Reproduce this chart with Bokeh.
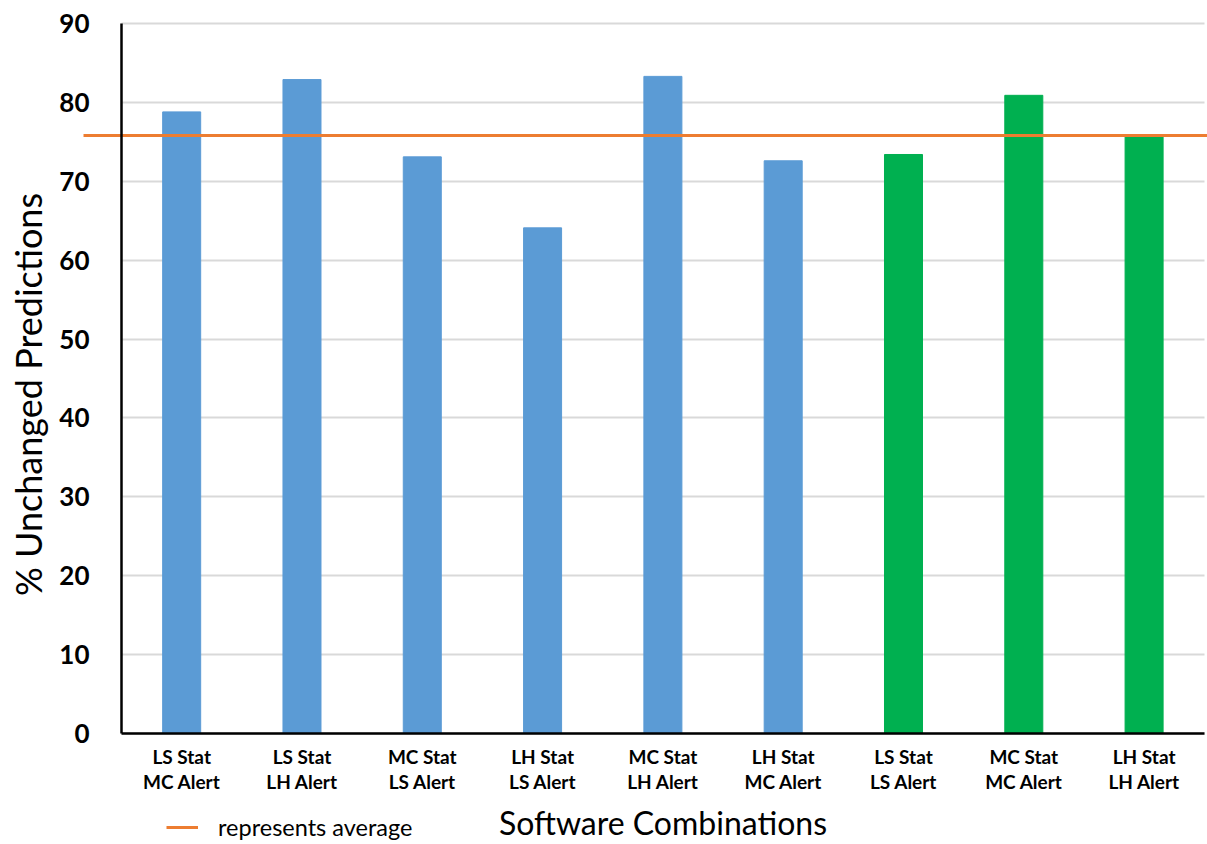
from bokeh.plotting import figure
from bokeh.models import (ColumnDataSource, Range1d, LinearAxis, FixedTicker,
                          Legend, LegendItem)
from bokeh.embed import file_html
from bokeh.resources import INLINE

# Software combinations (statistical package / alert package)
combos = ["LS Stat\nMC Alert", "LS Stat\nLH Alert", "MC Stat\nLS Alert",
          "LH Stat\nLS Alert", "MC Stat\nLH Alert", "LH Stat\nMC Alert",
          "LS Stat\nLS Alert", "MC Stat\nMC Alert", "LH Stat\nLH Alert"]
unchanged = [78.8, 82.9, 73.1, 64.1, 83.3, 72.6, 73.4, 80.9, 75.8]
same_vendor = [False, False, False, False, False, False, True, True, True]
average = 75.8
y_ticks = [0, 10, 20, 30, 40, 50, 60, 70, 80, 90]

BLUE = "#5B9BD5"
GREEN = "#00B050"
ORANGE = "#ED7D31"
FONT = "Lato"

n = len(combos)
positions = [i + 0.5 for i in range(n)]
colors = [GREEN if s else BLUE for s in same_vendor]
src = ColumnDataSource(dict(x=positions, top=unchanged, color=colors))

# The frame fills the whole canvas; both axes are pinned at zero so that the
# average line can run past the value axis into the label margin.
x_lo, x_hi = -1.006, 9.027
y_lo, y_hi = -14.07, 92.92
line_start = -0.316

p = figure(width=1207, height=844, output_backend="svg", toolbar_location=None,
           x_range=Range1d(x_lo, x_hi), y_range=Range1d(y_lo, y_hi),
           x_axis_location=None, y_axis_location=None,
           min_border_left=0, min_border_right=0, min_border_top=0,
           min_border_bottom=0)
p.outline_line_color = None
p.background_fill_color = "white"
p.border_fill_color = "white"

p.vbar(x="x", top="top", width=0.316, color="color", source=src)

avg_line = p.line(x=[line_start, x_hi], y=[average, average],
                  line_color=ORANGE, line_width=3)

# value axis: line and tick labels
yaxis = LinearAxis(fixed_location=0, bounds=(0, 90),
                   ticker=FixedTicker(ticks=y_ticks))
yaxis.major_label_text_font = FONT
yaxis.major_label_text_font_style = "bold"
yaxis.major_label_text_font_size = "26px"
yaxis.major_label_text_color = "black"
yaxis.major_label_standoff = 26
yaxis.major_tick_line_color = None
yaxis.minor_tick_line_color = None
yaxis.axis_line_color = "black"
yaxis.axis_line_width = 2.5
p.add_layout(yaxis, "left")

# value axis title, centred slightly below the middle of the scale
ytitle = LinearAxis(fixed_location=0, bounds=(-4, 90),
                    ticker=FixedTicker(ticks=[]))
ytitle.axis_label = "% Unchanged Predictions"
ytitle.axis_label_text_font = FONT
ytitle.axis_label_text_font_style = "normal"
ytitle.axis_label_text_font_size = "36px"
ytitle.axis_label_text_color = "black"
ytitle.axis_label_standoff = 72
ytitle.axis_line_color = None
ytitle.major_tick_line_color = None
ytitle.minor_tick_line_color = None
p.add_layout(ytitle, "left")

xaxis = LinearAxis(fixed_location=0, bounds=(0, n),
                   ticker=FixedTicker(ticks=positions))
xaxis.major_label_overrides = {x: c for x, c in zip(positions, combos)}
xaxis.axis_label = "Software Combinations"
xaxis.axis_label_text_font = FONT
xaxis.axis_label_text_font_style = "normal"
xaxis.axis_label_text_font_size = "32px"
xaxis.axis_label_text_line_height = 1.0
xaxis.axis_label_text_color = "black"
xaxis.axis_label_standoff = 7
xaxis.major_label_text_font = FONT
xaxis.major_label_text_font_style = "bold"
xaxis.major_label_text_font_size = "19px"
xaxis.major_label_text_line_height = 1.1
xaxis.major_label_text_color = "black"
xaxis.major_label_standoff = 5
xaxis.major_tick_line_color = None
xaxis.minor_tick_line_color = None
xaxis.axis_line_color = "black"
xaxis.axis_line_width = 2.5
p.add_layout(xaxis, "below")

p.xgrid.visible = False
p.ygrid.ticker = FixedTicker(ticks=y_ticks)
p.ygrid.grid_line_color = "#D9D9D9"
p.ygrid.grid_line_width = 2
p.ygrid.bounds = (0, 90)
p.ygrid.cross_bounds = (0, n)

legend = Legend(items=[LegendItem(label="represents average", renderers=[avg_line])],
                location=(166, 3), orientation="horizontal",
                label_text_font=FONT, label_text_font_size="23.5px",
                label_text_color="black", glyph_width=32, label_standoff=20,
                padding=0, margin=0, border_line_color=None,
                background_fill_alpha=0)
p.add_layout(legend, "center")

open("out.html", "w").write(file_html(p, INLINE))
